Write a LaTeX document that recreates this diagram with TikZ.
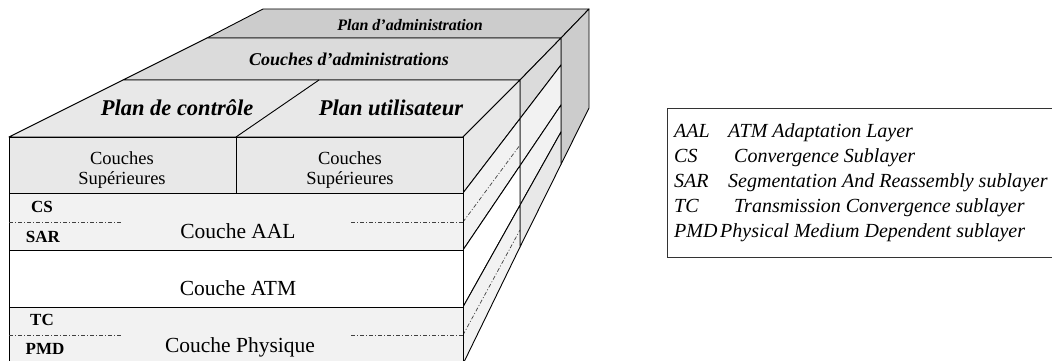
\documentclass[tikz,border=0pt]{standalone}
\usepackage{fontspec}
\setmainfont{Liberation Serif}
\usetikzlibrary{positioning}

\definecolor{grisA}{gray}{0.80}
\definecolor{grisB}{gray}{0.86}
\definecolor{grisC}{gray}{0.91}
\definecolor{grisD}{gray}{0.95}

\tikzset{
  arete/.style={draw=black, line width=0.9pt, line join=round},
  pointille/.style={draw=black!75, line width=0.7pt, dash pattern=on 4pt off 2pt on 1pt off 2pt},
  couche/.style={font=\fontsize{21.5}{24}\selectfont, anchor=base, inner sep=0pt},
  sup/.style={font=\fontsize{18.5}{20}\selectfont, align=center, inner sep=0pt},
  sous/.style={font=\bfseries\fontsize{17}{20}\selectfont, inner sep=0pt},
  plan/.style={font=\bfseries\itshape\fontsize{22.5}{26}\selectfont, anchor=base, inner sep=0pt},
  legende/.style={font=\itshape\fontsize{20}{22}\selectfont, anchor=base west, inner sep=0pt}
}

\begin{document}
\begin{tikzpicture}[x=1pt, y=-1pt]
  \useasboundingbox (0,0) rectangle (1052,361);
  \clip (0,0) rectangle (1052,361);

  % dessus des trois plans
  \filldraw[fill=grisA, arete] (263,9) -- (589,9) -- (561,38) -- (207,38) -- cycle;
  \filldraw[fill=grisB, arete] (207,38) -- (561,38) -- (520,80) -- (123,80) -- cycle;
  \filldraw[fill=grisC, arete] (123,80) -- (520,80) -- (463,137) -- (9,137) -- cycle;
  \draw[arete] (236,137) -- (319,80);

  % cote droit
  \filldraw[fill=grisA, arete] (561,38) -- (589,9) -- (589,108) -- (561,164.4) -- cycle;
  \filldraw[fill=grisB, arete] (520,80) -- (561,38) -- (561,65) -- (520,118.6) -- cycle;
  \filldraw[fill=grisD, arete] (520,118.6) -- (561,65) -- (561,105) -- (520,165.7) -- cycle;
  \filldraw[fill=grisD, arete] (520,165.7) -- (561,105) -- (561,132) -- (520,205.2) -- cycle;
  \filldraw[fill=grisC, arete] (520,205.2) -- (561,132) -- (561,164.4) -- (520,247) -- cycle;
  \filldraw[fill=grisC, arete] (463,137) -- (520,80) -- (520,118.6) -- (463,193) -- cycle;
  \filldraw[fill=grisD, arete] (463,193) -- (520,118.6) -- (520,165.7) -- (463,250) -- cycle;
  \filldraw[fill=white, arete] (463,250) -- (520,165.7) -- (520,205.2) -- (463,307) -- cycle;
  \filldraw[fill=grisD, arete] (463,307) -- (520,205.2) -- (520,247) -- (463,364) -- cycle;
  \draw[pointille] (463,222) -- (520,145); \draw[pointille] (463,335) -- (520,230);

  % face avant
  \filldraw[fill=grisC, arete] (9,137) rectangle (236,193);
  \filldraw[fill=grisC, arete] (236,137) rectangle (463,193);
  \filldraw[fill=grisD, arete] (9,193) rectangle (463,250);
  \filldraw[fill=white, arete] (9,250) rectangle (463,307);
  \filldraw[fill=grisD, arete] (9,307) rectangle (463,364);
  \draw[pointille] (9,222) -- (121,222); \draw[pointille] (351,222) -- (463,222);
  \draw[pointille] (9,335) -- (121,335); \draw[pointille] (351,335) -- (463,335);

  \node[plan, font=\bfseries\itshape\fontsize{16}{18}\selectfont] (pladm) at (410,31) {Plan d’administration};
  \node[plan, font=\bfseries\itshape\fontsize{18}{22}\selectfont] (coadm) at (349,66) {Couches d’administrations};
  \node[plan] (ctrl) at (177,115) {Plan de contrôle};
  \node[plan] (util) at (391,115) {Plan utilisateur};

  \node[sup] (supg) at (122,170) {Couches\\Supérieures};
  \node[sup] (supd) at (350,170) {Couches\\Supérieures};
  \node[couche] (aal) at (238,238) {Couche AAL};
  \node[couche] (atm) at (238,295) {Couche ATM};
  \node[couche] (phy) at (240,352) {Couche Physique};
  \node[sous] (cs) at (42,207) {CS};   \node[sous] (sar) at (43,237) {SAR};
  \node[sous] (tc) at (42,320) {TC};   \node[sous] (pmd) at (45,349) {PMD};

  % legende
  \draw[draw=black!80, line width=0.9pt] (1053,108) -- (667,108) -- (667,257) -- (1053,257);
  \node[legende] (l1) at (674,137) {AAL}; \node[legende] (d1) at (728,137) {ATM Adaptation Layer};
  \node[legende] (l2) at (674,162) {CS};  \node[legende] (d2) at (734,162) {Convergence Sublayer};
  \node[legende] (l3) at (674,187) {SAR}; \node[legende] (d3) at (728,187) {Segmentation And Reassembly sublayer};
  \node[legende] (l4) at (674,212) {TC};  \node[legende] (d4) at (734,212) {Transmission Convergence sublayer};
  \node[legende] (l5) at (674,237) {PMD}; \node[legende] (d5) at (720,237) {Physical Medium Dependent sublayer};
\end{tikzpicture}
\end{document}
